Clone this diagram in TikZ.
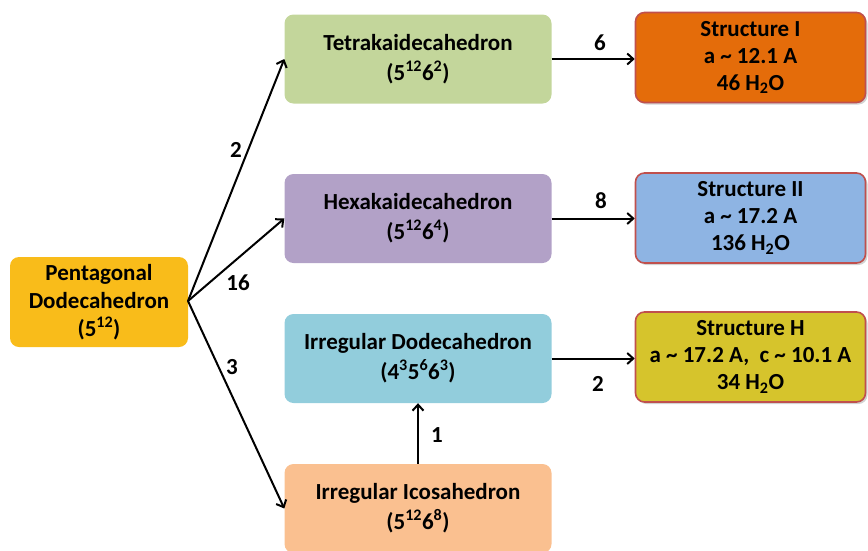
\documentclass[tikz,border=0pt]{standalone}
\usepackage{fontspec}
\setmainfont{Carlito}
\usetikzlibrary{shadows,arrows.meta}
\definecolor{penta}{HTML}{F9BC1A}
\definecolor{tetra}{HTML}{C3D69B}
\definecolor{hexa}{HTML}{B2A1C7}
\definecolor{dodeca}{HTML}{92CDDC}
\definecolor{icosa}{HTML}{FAC090}
\definecolor{sI}{HTML}{E46C0A}
\definecolor{sII}{HTML}{8EB4E3}
\definecolor{sH}{HTML}{D6C42C}
\definecolor{redb}{HTML}{C0504D}
\tikzset{
  cage/.style={rounded corners=9pt, minimum width=267pt, minimum height=89pt, align=center, inner sep=0pt,
    font=\fontsize{23}{30}\selectfont\bfseries},
  struct/.style={rounded corners=9pt, minimum width=230pt, minimum height=90pt, align=center, inner sep=0pt,
    draw=redb, line width=1.6pt, drop shadow={shadow xshift=2pt, shadow yshift=-2pt, opacity=0.35},
    font=\fontsize{23}{27}\selectfont\bfseries},
  arr/.style={-{Straight Barb[length=6pt,width=11pt,line width=2pt]}, line width=2pt},
  lab/.style={font=\fontsize{23}{24}\selectfont\bfseries}
}
\begin{document}
\begin{tikzpicture}[x=1pt,y=-1pt]
\useasboundingbox (0,0) rectangle (868,550);
\node[cage, fill=penta, minimum width=178pt, minimum height=90pt, font=\fontsize{23}{28}\selectfont\bfseries] (pd) at (99,302) {Pentagonal\\Dodecahedron\\(5\textsuperscript{12})};
\node[cage, fill=tetra] (tk) at (418,59) {Tetrakaidecahedron\\(5\textsuperscript{12}6\textsuperscript{2})};
\node[cage, fill=hexa] (hk) at (418,218.5) {Hexakaidecahedron\\(5\textsuperscript{12}6\textsuperscript{4})};
\node[cage, fill=dodeca] (id) at (418,358.5) {Irregular Dodecahedron\\(4\textsuperscript{3}5\textsuperscript{6}6\textsuperscript{3})};
\node[cage, fill=icosa] (ii) at (418,508.5) {Irregular Icosahedron\\(5\textsuperscript{12}6\textsuperscript{8})};
\node[struct, fill=sI] (s1) at (750.5,57.5) {Structure I\\a \textasciitilde{} 12.1 A\\46 H\textsubscript{2}O};
\node[struct, fill=sII] (s2) at (750.5,218) {Structure II\\a \textasciitilde{} 17.2 A\\136 H\textsubscript{2}O};
\node[struct, fill=sH] (sh) at (750.5,357) {Structure H\\a \textasciitilde{} 17.2 A,\ \ c \textasciitilde{} 10.1 A\\34 H\textsubscript{2}O};
\coordinate (o) at (188,301);
\draw[arr] (o) -- (tk.west);
\draw[arr] (o) -- (hk.west);
\draw[arr] (o) -- (ii.west);
\draw[arr] (tk.east) -- (s1.west |- tk.east);
\draw[arr] (hk.east) -- (s2.west |- hk.east);
\draw[arr] (id.east) -- (sh.west |- id.east);
\draw[arr] (ii.north) -- (id.south);
\node[lab] (l2) at (236,150) {2};
\node[lab] (l16) at (238,283) {16};
\node[lab] (l3) at (232,367) {3};
\node[lab] (l6) at (600,43) {6};
\node[lab] (l8) at (601,201) {8};
\node[lab] (l2b) at (598,384) {2};
\node[lab] (l1) at (437,435) {1};
\end{tikzpicture}
\end{document}
